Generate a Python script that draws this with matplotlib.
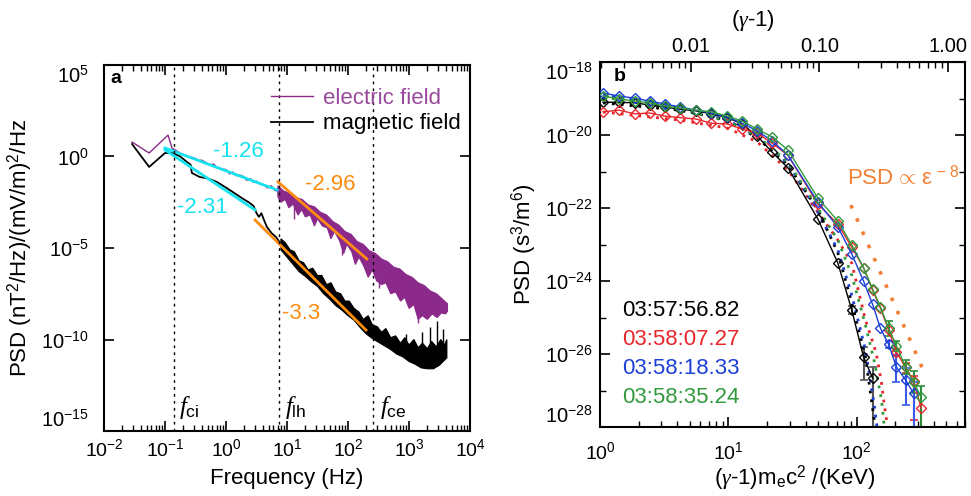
import numpy as np
import matplotlib
matplotlib.use("Agg")
import matplotlib.pyplot as plt
from matplotlib.ticker import FixedLocator, NullFormatter, LogLocator, FixedFormatter

plt.rcParams['font.family'] = ['Liberation Sans', 'DejaVu Sans']
plt.rcParams['mathtext.fontset'] = 'custom'
plt.rcParams['mathtext.rm'] = 'Liberation Sans'
plt.rcParams['mathtext.it'] = 'Liberation Serif:italic'
plt.rcParams['mathtext.bf'] = 'Liberation Sans:bold'

# ---------------- panel a : wave spectra (log10 values)
# electric field, low-frequency trace
e_logf = [-1.54, -1.26, -0.95, -0.885, -0.8, -0.72, -0.65, -0.6, -0.52, -0.45, -0.4, -0.33, -0.26,
          -0.2, -0.15, -0.07, 0.0, 0.06, 0.11, 0.17, 0.23, 0.29, 0.34, 0.4, 0.45, 0.5, 0.55, 0.62,
          0.68, 0.74, 0.8, 0.85]
e_logp = [0.79, 0.19, 1.17, 0.46, 0.28, 0.12, 0.05, -0.02, -0.08, -0.22, -0.2, -0.33, -0.45,
          -0.42, -0.6, -0.68, -0.72, -0.95, -0.85, -1.05, -1.02, -1.1, -1.3, -1.22, -1.4, -1.35,
          -1.5, -1.55, -1.72, -1.6, -1.85, -1.9]
# electric field, noisy band above f_lh: upper envelope ...
eu_logf = [0.85, 0.95, 1.05, 1.15, 1.25, 1.35, 1.45, 1.55, 1.65, 1.75, 1.85, 1.95, 2.05, 2.15,
           2.25, 2.35, 2.45, 2.55, 2.65, 2.75, 2.85, 2.95, 3.05, 3.15, 3.25, 3.35, 3.45, 3.55, 3.63]
eu_logp = [-1.6, -1.9, -2.0, -2.25, -2.35, -2.65, -2.75, -3.05, -3.2, -3.55, -3.75, -4.1, -4.25,
           -4.65, -4.8, -5.15, -5.3, -5.6, -5.75, -6.05, -6.15, -6.45, -6.6, -6.9, -7.05, -7.35,
           -7.5, -7.8, -8.05]
# ... and lower envelope
el_logf = [0.85, 0.9, 0.97, 1.03, 1.1, 1.18, 1.24, 1.3, 1.38, 1.45, 1.5, 1.58, 1.66, 1.72, 1.78,
           1.86, 1.93, 1.98, 2.06, 2.12, 2.18, 2.26, 2.33, 2.4, 2.47, 2.55, 2.62, 2.7, 2.78, 2.86,
           2.93, 3.0, 3.08, 3.15, 3.22, 3.3, 3.38, 3.46, 3.53, 3.6, 3.63]
el_logp = [-2.2, -2.5, -2.35, -2.8, -2.6, -3.2, -2.9, -3.3, -3.2, -3.8, -3.4, -3.8, -3.9, -4.5,
           -4.1, -4.6, -5.3, -4.8, -5.2, -5.9, -5.5, -6.0, -6.6, -6.2, -6.8, -7.0, -6.9, -7.5,
           -7.4, -7.9, -7.7, -8.3, -8.1, -8.9, -8.7, -8.9, -8.6, -8.8, -8.55, -8.6, -8.45]
e_spike_logf = [1.12, 1.9, 2.5, 3.15]
e_spike_top = [-2.6, -4.6, -6.3, -7.5]
e_spike_bot = [-3.4, -5.4, -7.2, -9.1]

# magnetic field, low-frequency trace
m_logf = [-1.54, -1.26, -1.0, -0.87, -0.75, -0.64, -0.58, -0.56, -0.43, -0.3, -0.15, 0.0, 0.11,
          0.25, 0.39, 0.45, 0.5, 0.54, 0.58, 0.62, 0.67, 0.75, 0.82, 0.9]
m_logp = [0.68, -0.57, 0.19, 0.19, 0.0, -0.3, -0.45, -0.9, -1.12, -1.2, -1.39, -1.7, -1.94,
          -2.25, -2.54, -2.7, -3.1, -3.3, -3.1, -3.45, -3.85, -4.2, -4.4, -4.8]
# magnetic field, noisy band above f_lh: upper envelope ...
mu_logf = [0.9, 0.97, 1.05, 1.12, 1.2, 1.27, 1.35, 1.42, 1.5, 1.57, 1.65, 1.72, 1.8, 1.88, 1.95,
           2.02, 2.1, 2.18, 2.25, 2.33, 2.4, 2.48, 2.55, 2.62, 2.7, 2.78, 2.86, 2.93, 3.0, 3.08,
           3.15, 3.22, 3.3, 3.37, 3.45, 3.52, 3.58, 3.62]
mu_logp = [-4.5, -4.7, -5.1, -5.2, -5.7, -5.8, -6.2, -6.1, -6.5, -6.5, -7.0, -6.9, -7.4, -7.5,
           -7.9, -7.9, -8.3, -8.5, -8.9, -8.7, -9.2, -9.3, -9.6, -9.4, -9.9, -9.8, -10.2, -9.9,
           -10.3, -10.0, -10.45, -10.2, -10.5, -10.1, -10.4, -10.0, -10.3, -10.0]
# ... and lower envelope
ml_logf = [0.9, 1.0, 1.1, 1.2, 1.3, 1.4, 1.5, 1.6, 1.7, 1.8, 1.9, 2.0, 2.1, 2.2, 2.3, 2.4, 2.5,
           2.6, 2.7, 2.8, 2.9, 3.0, 3.1, 3.2, 3.3, 3.4, 3.5, 3.62]
ml_logp = [-5.1, -5.5, -5.9, -6.3, -6.55, -6.85, -7.1, -7.5, -7.8, -8.15, -8.4, -8.7, -8.95,
           -9.35, -9.7, -9.95, -10.15, -10.35, -10.55, -10.8, -10.95, -11.2, -11.35, -11.55,
           -11.6, -11.6, -11.4, -11.0]
m_spike_logf = [1.72, 2.33, 2.95, 3.22, 3.35, 3.45, 3.55]
m_spike_top = [-6.9, -8.7, -9.7, -9.6, -9.3, -9.0, -9.4]
m_spike_bot = [-7.6, -9.4, -10.6, -10.8, -10.9, -10.8, -10.7]

# power-law fits: [f_start, f_end], [psd_start, psd_end]
fit_e_low_f, fit_e_low_p = [0.1, 6.9], [2.9, 0.0148]
fit_m_low_f, fit_m_low_p = [0.1, 2.99], [2.3, 0.0012]
fit_e_high_f, fit_e_high_p = [7.1, 204], [0.041, 2.5e-6]
fit_m_high_f, fit_m_high_p = [2.99, 197], [3.4e-4, 3.3e-10]
fit_slopes = ['-1.26', '-2.31', '-2.96', '-3.3']

f_ci, f_lh, f_ce = 0.14, 7.4, 257

# ---------------- panel b : electron phase-space density
energy = [1.055, 1.40, 1.87, 2.44, 3.19, 4.17, 5.55, 7.38, 9.83, 12.8, 16.8, 21.9, 29.1,
          49.8, 71.3, 91.5, 113, 133, 153, 177, 204, 240, 277, 318]
psd_black = [7.9e-20, 7.9e-20, 7.6e-20, 6.6e-20, 5.9e-20, 5.1e-20, 4.6e-20, 3.8e-20, 3.0e-20,
             2.0e-20, 9.3e-21, 3.4e-21, 1.26e-21, 5.0e-23, 3.1e-24, 1.6e-25, 8.3e-27, 2.2e-27]
psd_red = [4.3e-20, 4.8e-20, 3.8e-20, 4.0e-20, 3.3e-20, 3.0e-20, 2.75e-20, 2.1e-20, 2.0e-20,
           1.45e-20, 1.12e-20, 6.0e-21, 2.8e-21, 1.29e-22, 3.6e-23, 8.5e-24, 2.3e-24, 5.6e-25,
           1.8e-25, 4.6e-26, 1.12e-26, 4.4e-27, 1.8e-27, 3.3e-28]
psd_blue = [1.41e-19, 1.17e-19, 1.02e-19, 8.5e-20, 7.1e-20, 5.9e-20, 4.8e-20, 4.0e-20, 3.1e-20,
            2.1e-20, 1.29e-20, 6.9e-21, 2.8e-21, 1.45e-22, 3.0e-23, 5.5e-24, 1.0e-24, 2.3e-25,
            5.1e-26, 1.86e-26, 4.4e-27, 1.95e-27, 8.5e-28]
psd_green = [1.17e-19, 9.8e-20, 8.5e-20, 7.6e-20, 6.2e-20, 5.5e-20, 4.8e-20, 4.3e-20, 3.3e-20,
             2.4e-20, 1.45e-20, 8.9e-21, 3.9e-21, 1.86e-22, 4.4e-23, 9.8e-24, 2.3e-24, 6.0e-25,
             1.95e-25, 5.1e-26, 1.66e-26, 4.4e-27, 1.7e-27, 6.6e-28]
# error bars in decades (up, down) for the tail points
err_black = {15: (0.1, 0.1), 16: (0.27, 0.63), 17: (0.3, 5.0)}
err_red = {20: (0.1, 0.1), 21: (0.1, 0.15), 22: (0.15, 1.06)}
err_blue = {19: (0.1, 0.1), 20: (0.33, 0.41), 21: (0.33, 0.68), 22: (0.3, 5.0)}
err_green = {19: (0.2, 0.2), 20: (0.15, 0.15), 21: (0.2, 0.2), 22: (0.3, 0.3), 23: (0.3, 5.0)}

# model fits (dotted)
fit_energy = [1.055, 4.17, 9.83, 16.8, 29.1, 49.8, 71.3, 91.5, 117, 137, 144, 156, 164, 174]
fit_black = [-19.12, -19.32, -19.59, -20.08, -20.82, -22.05, -23.23, -24.60, -26.08, -27.81, -28.5]
fit_blue = [-18.90, -19.26, -19.59, -20.05, -20.77, -22.11, -23.15, -24.38, -25.89, -27.4, -28.0]
fit_green = [-18.96, -19.29, -19.62, -20.03, -20.74, -22.0, -22.88, -23.84, -25.21, -26.2, -26.6,
             -27.26, -28.0]
fit_red = [-19.37, -19.59, -19.81, -20.19, -20.96, -22.11, -22.88, -23.51, -25.07, -25.8, -26.1,
           -26.79, -27.4, -28.0]
power8_E, power8_psd = [90, 330], [1.2e-22, 3.6e-27]

times = ['03:57:56.82', '03:58:07.27', '03:58:18.33', '03:58:35.24']
colors_b = ['black', '#e8262b', '#1c3fd6', '#329a3c']
err_colors = ['#555555', '#e8262b', '#3a5be8', '#2e8c3a']

purple = '#8b2a8b'
cyan = '#16e2f0'
orange = '#ff8c10'

fig = plt.figure(figsize=(9.71, 4.96), dpi=100)
ax = fig.add_axes([0.1071, 0.131, 0.377, 0.738])
bx = fig.add_axes([0.618, 0.139, 0.376, 0.736])

p = lambda v: 10 ** np.asarray(v, dtype=float)

# ---- panel a
ax.fill(p(eu_logf + el_logf[::-1]), p(eu_logp + el_logp[::-1]), color=purple, lw=0.8)
ax.vlines(p(e_spike_logf), p(e_spike_bot), p(e_spike_top), color=purple, lw=1)
le, = ax.plot(p(e_logf), p(e_logp), color=purple, lw=1)
ax.fill(p(mu_logf + ml_logf[::-1]), p(mu_logp + ml_logp[::-1]), color='black', lw=0.8)
ax.vlines(p(m_spike_logf), p(m_spike_bot), p(m_spike_top), color='black', lw=1)
lm, = ax.plot(p(m_logf), p(m_logp), color='black', lw=1.3)

ax.plot(fit_e_low_f, fit_e_low_p, color=cyan, lw=2)
ax.plot(fit_m_low_f, fit_m_low_p, color=cyan, lw=2)
ax.plot(fit_e_high_f, fit_e_high_p, color=orange, lw=2)
ax.plot(fit_m_high_f, fit_m_high_p, color=orange, lw=2)

for fv in (f_ci, f_lh, f_ce):
    ax.axvline(fv, color='black', lw=1, ls=(0, (2, 3)))

ax.text(0.61, 1.76, fit_slopes[0], color=cyan, fontsize=16, va='center')
ax.text(0.157, 1.55e-3, fit_slopes[1], color=cyan, fontsize=16, va='center')
ax.text(19.7, 0.0277, fit_slopes[2], color=orange, fontsize=16, va='center')
ax.text(8.3, 2.5e-9, fit_slopes[3], color=orange, fontsize=16, va='center')

ax.text(0.17, 2e-14, r'$f_{\rm ci}$', fontsize=18, va='center')
ax.text(9.3, 2e-14, r'$f_{\rm lh}$', fontsize=18, va='center')
ax.text(330, 2e-14, r'$f_{\rm ce}$', fontsize=18, va='center')

ax.legend([le, lm], ['electric field', 'magnetic field'], loc='upper left',
          bbox_to_anchor=(0.455, 0.937), frameon=False, borderpad=0, borderaxespad=0,
          handlelength=1.9, handletextpad=0.45, labelspacing=0.2, fontsize=16,
          labelcolor=['#9a4a9c', 'black'])
ax.text(0.018, 0.962, 'a', transform=ax.transAxes, fontsize=14, fontweight='bold',
        va='center')

ax.set_xscale('log')
ax.set_yscale('log')
ax.set_xlim(1e-2, 1e4)
ax.set_ylim(1e-15, 1e5)
ax.xaxis.set_major_locator(LogLocator(base=10, numticks=20))
ax.xaxis.set_minor_locator(LogLocator(base=10, subs=np.arange(2, 10), numticks=20))
ax.xaxis.set_minor_formatter(NullFormatter())
ax.yaxis.set_major_locator(FixedLocator([1e-15, 1e-10, 1e-5, 1e0, 1e5]))
ax.yaxis.set_minor_locator(FixedLocator([]))
ax.tick_params(which='both', direction='in', top=True, right=True)
ax.tick_params(which='major', length=7, width=1.2)
ax.tick_params(which='minor', length=4, width=1)
ax.tick_params(axis='y', pad=11, labelsize=14.5)
ax.tick_params(axis='x', pad=5, labelsize=14)
ax.set_xlabel('Frequency (Hz)', fontsize=16, labelpad=6)
ax.set_ylabel('PSD (nT$^2$/Hz)/(mV/m)$^2$/Hz', fontsize=16, labelpad=4)
for s in ax.spines.values():
    s.set_linewidth(1.5)

# ---- panel b
series = [psd_black, psd_red, psd_blue, psd_green]
errs = [err_black, err_red, err_blue, err_green]
fits = [fit_black, fit_red, fit_blue, fit_green]
for vals, err, fit, c, ec in zip(series, errs, fits, colors_b, err_colors):
    n = len(vals)
    e = np.array(energy[:n])
    v = np.array(vals)
    up = np.array([err.get(i, (0, 0))[0] for i in range(n)])
    dn = np.array([err.get(i, (0, 0))[1] for i in range(n)])
    yerr = [v - v * 10 ** -dn, v * 10 ** up - v]
    mask = (up > 0) | (dn > 0)
    bx.errorbar(e[mask], v[mask], yerr=[yerr[0][mask], yerr[1][mask]], fmt='none',
                ecolor=ec, elinewidth=1.5, capsize=3, capthick=1.2, zorder=2)
    bx.plot(fit_energy[:len(fit)], p(fit), color=c, lw=2, ls=(0, (1, 2.2)), zorder=2)
    bx.plot(e, v, color=c, lw=1, marker='D', ms=5, mfc='none', mew=1, zorder=3)

bx.plot(power8_E, power8_psd, color='#f28034', lw=2.6, ls=(0, (1, 3)))
bx.text(0.677, 0.685, r'PSD$\,\propto\,\mathrm{ε}^{\,-\,8}$', transform=bx.transAxes,
        color='#f28034', fontsize=16, va='center')

for i, (t, c) in enumerate(zip(times, colors_b)):
    bx.text(0.06, 0.318 - i * 0.079, t, color=c, fontsize=16, transform=bx.transAxes,
            va='center')
bx.text(0.036, 0.959, 'b', transform=bx.transAxes, fontsize=14, fontweight='bold',
        va='center')

bx.set_xscale('log')
bx.set_yscale('log')
bx.set_xlim(1, 700)
bx.set_ylim(1e-28, 1e-18)
bx.xaxis.set_major_locator(FixedLocator([1, 10, 100]))
bx.xaxis.set_minor_locator(LogLocator(base=10, subs=np.arange(2, 10), numticks=20))
bx.xaxis.set_minor_formatter(NullFormatter())
bx.yaxis.set_major_locator(FixedLocator([1e-28, 1e-26, 1e-24, 1e-22, 1e-20, 1e-18]))
bx.yaxis.set_minor_locator(FixedLocator([1e-27, 1e-25, 1e-23, 1e-21, 1e-19]))
bx.yaxis.set_minor_formatter(NullFormatter())
bx.tick_params(which='both', direction='in', right=True)
bx.tick_params(which='major', length=7, width=1.2)
bx.tick_params(which='minor', length=4, width=1)
bx.tick_params(axis='y', pad=5, labelsize=14.5)
bx.tick_params(axis='x', pad=10, labelsize=14)
bx.set_xlabel('($\\gamma$-1)m$_{\\rm e}$c$^2$ /(KeV)', fontsize=16)
bx.xaxis.set_label_coords(0.534, -0.1)
bx.set_ylabel('PSD (s$^3$/m$^6$)', fontsize=16, labelpad=4)
for s in bx.spines.values():
    s.set_linewidth(1.5)

top = bx.secondary_xaxis('top', functions=(lambda x: x / 511.0, lambda g: g * 511.0))
top.xaxis.set_major_locator(FixedLocator([0.01, 0.1, 1.0]))
top.xaxis.set_major_formatter(FixedFormatter(['0.01', '0.10', '1.00']))
top.xaxis.set_minor_locator(LogLocator(base=10, subs=np.arange(2, 10), numticks=20))
top.xaxis.set_minor_formatter(NullFormatter())
top.tick_params(which='both', direction='in', labelsize=14.5, pad=4)
top.tick_params(which='major', length=7, width=1.2)
top.tick_params(which='minor', length=4, width=1)
bx.text(0.42, 1.115, '($\\gamma$-1)', transform=bx.transAxes, fontsize=16,
        ha='center', va='center')

# edge tick labels sit inside the axis span, as in the original
for a in (ax, bx):
    yt = a.yaxis.get_major_ticks()
    yt[0].label1.set_va('bottom')
    yt[-1].label1.set_va('top')

fig.savefig('out.png', dpi=100)
